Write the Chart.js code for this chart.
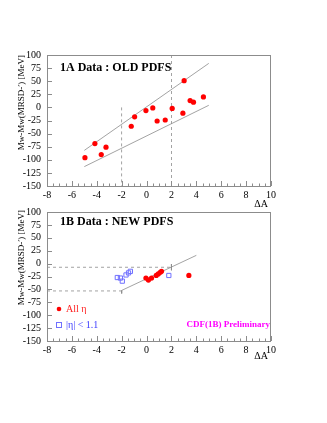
<!DOCTYPE html>
<html><head><meta charset="utf-8">
<script src="https://cdn.jsdelivr.net/npm/chart.js@4.4.1/dist/chart.umd.min.js"></script>
<style>
html,body{margin:0;padding:0;background:#fff;}
#wrap{position:relative;width:327px;height:423px;overflow:hidden;}
canvas{position:absolute;left:0;}
#c1{top:0;} #c2{top:200px;}
</style></head><body>
<div id="wrap"><canvas id="c1" width="327" height="215"></canvas><canvas id="c2" width="327" height="223"></canvas></div>
<script>
// ---- data ----
const xTicks = [-8,-6,-4,-2,0,2,4,6,8,10];
const yTicks = [-150,-125,-100,-75,-50,-25,0,25,50,75,100];
// Top panel (1A data)
const dA_1A = [-4.95,-4.15,-3.64,-3.26,-1.23,-0.96,-0.05,0.5,0.85,1.5,2.06,2.92,3.02,3.5,3.77,4.57];
const dMw_1A = [-96,-69,-90,-76,-36,-18,-6,-1,-26,-24,-2,-11,51,13,10,20];
const upperBandX = [-5,5], upperBandY = [-82,84];
const lowerBandX = [-5,5], lowerBandY = [-113,4];
const vLine1X = [-2,-2], vLine1Y = [0,-150];
const vLine2X = [2,2], vLine2Y = [100,-150];
// Bottom panel (1B data)
const dA_all = [-0.05,0.15,0.4,0.78,0.94,1.1,1.2,3.4];
const dMw_all = [-28,-32,-28,-23,-20,-17,-15,-23];
const dA_cen = [-2.35,-2.1,-1.95,-1.65,-1.45,-1.3,1.79];
const dMw_cen = [-27,-28,-34,-22,-18,-15,-23];
const fitX = [-2,4], fitY = [-52,16];
const hDash1X = [-8,2], hDash1Y = [-7,-7];
const hDash2X = [-8,-2], hDash2Y = [-53,-53];
const mark1X = [-2,-2], mark1Y = [-52,-58];
const mark2X = [2,2], mark2Y = [-1,-13];

const zip = (xs,ys)=>xs.map((x,i)=>({x:x,y:ys[i]}));
const SERIF = '"Liberation Serif","DejaVu Serif",serif';
const GREY = '#8c8c8c';

function lineDs(xs,ys,dash){
  return {type:'scatter',data:zip(xs,ys),showLine:true,borderColor:GREY,borderWidth:0.8,
    borderDash:dash||[],pointRadius:0,fill:false};
}

function framePlugin(texts){
  return {id:'frame',
    afterDraw(chart){
      const ctx=chart.ctx, a=chart.chartArea, xs=chart.scales.x, ys=chart.scales.y;
      ctx.save();
      ctx.strokeStyle=GREY; ctx.lineWidth=1;
      ctx.strokeRect(a.left+0.5,a.top+0.5,a.right-a.left-1,a.bottom-a.top);
      ctx.beginPath();
      for(let v=-8; v<=10.001; v+=0.5){
        const px=Math.round(xs.getPixelForValue(v))+0.5;
        const L = (Math.abs(v%2)<1e-6)?5:2.5;
        ctx.moveTo(px,a.bottom); ctx.lineTo(px,a.bottom-L);
      }
      for(let v=-150; v<=100.001; v+=25){
        const py=Math.round(ys.getPixelForValue(v))+0.5;
        ctx.moveTo(a.left,py); ctx.lineTo(a.left+5,py);
      }
      ctx.stroke();
      texts.forEach(t=>{
        ctx.save();
        ctx.font=t.font; ctx.fillStyle=t.color; ctx.textAlign=t.align||'left'; ctx.textBaseline='middle';
        ctx.translate(t.x,t.y); if(t.rot) ctx.rotate(t.rot);
        ctx.fillText(t.text,0,0);
        ctx.restore();
      });
      (texts.markers||[]).forEach(m=>m(ctx));
      ctx.restore();
    }};
}

function scales(){
  return {
    x:{type:'linear',min:-8,max:10,
      afterBuildTicks:s=>{s.ticks=xTicks.map(v=>({value:v}));},
      afterFit:s=>{s.height=29;},
      grid:{display:false,drawTicks:false},border:{display:false},
      ticks:{padding:3,color:'#000',autoSkip:false,font:{family:SERIF,size:10},maxRotation:0}},
    y:{type:'linear',min:-150,max:100,
      afterBuildTicks:s=>{s.ticks=yTicks.map(v=>({value:v}));},
      afterFit:s=>{s.width=47;},
      grid:{display:false,drawTicks:false},border:{display:false},
      ticks:{padding:6,color:'#000',autoSkip:false,font:{family:SERIF,size:10}}}
  };
}
const baseOpts = {responsive:false,animation:false,
  plugins:{legend:{display:false},tooltip:{enabled:false}}};

const ytitle = 'Mw-Mw(MRSD-′) [MeV]';

// Chart 1
const t1 = [
  {text:'1A Data : OLD PDFS',x:60,y:68,font:'bold 12px '+SERIF,color:'#000'},
  {text:'ΔA',x:268,y:204,font:'10px '+SERIF,color:'#000',align:'right'},
  {text:ytitle,x:22,y:55,font:'9px '+SERIF,color:'#000',align:'right',rot:-Math.PI/2}
];
new Chart(document.getElementById('c1'),{
  type:'scatter',
  data:{datasets:[
    {data:zip(dA_1A,dMw_1A),backgroundColor:'#ff0000',borderColor:'#ff0000',pointRadius:2.6,pointBorderWidth:0},
    lineDs(upperBandX,upperBandY),
    lineDs(lowerBandX,lowerBandY),
    lineDs(vLine1X,vLine1Y,[3,3]),
    lineDs(vLine2X,vLine2Y,[3,3])
  ]},
  options:Object.assign({},baseOpts,{layout:{padding:{left:0,top:55,right:56,bottom:0}},scales:scales()}),
  plugins:[framePlugin(t1)]
});

// Chart 2
const t2 = [
  {text:'1B Data : NEW PDFS',x:60,y:22,font:'bold 12px '+SERIF,color:'#000'},
  {text:'ΔA',x:268,y:156,font:'10px '+SERIF,color:'#000',align:'right'},
  {text:ytitle,x:22,y:10,font:'9px '+SERIF,color:'#000',align:'right',rot:-Math.PI/2},
  {text:'All η',x:66,y:109,font:'10px '+SERIF,color:'#ff2020'},
  {text:'|η| < 1.1',x:66,y:125,font:'10px '+SERIF,color:'#3c3cff'},
  {text:'CDF(1B) Preliminary',x:270,y:125,font:'bold 9px '+SERIF,color:'#ff00ff',align:'right'}
];
t2.markers=[ctx=>{
  ctx.fillStyle='#ff0000'; ctx.beginPath(); ctx.arc(59,109,2.3,0,Math.PI*2); ctx.fill();
  ctx.strokeStyle='#7070ff'; ctx.lineWidth=1; ctx.strokeRect(56.5,122.5,5,5);
}];
new Chart(document.getElementById('c2'),{
  type:'scatter',
  data:{datasets:[
    {data:zip(dA_all,dMw_all),backgroundColor:'#ff0000',borderColor:'#ff0000',pointRadius:2.6,pointBorderWidth:0},
    {data:zip(dA_cen,dMw_cen),pointStyle:'rect',backgroundColor:'rgba(0,0,0,0)',borderColor:'#7070ff',pointRadius:3,pointBorderWidth:1},
    lineDs(fitX,fitY),
    lineDs(hDash1X,hDash1Y,[3,3]),
    lineDs(hDash2X,hDash2Y,[3,3]),
    lineDs(mark1X,mark1Y),
    lineDs(mark2X,mark2Y)
  ]},
  options:Object.assign({},baseOpts,{layout:{padding:{left:0,top:10,right:56,bottom:53}},scales:scales()}),
  plugins:[framePlugin(t2)]
});
</script>
</body></html>
